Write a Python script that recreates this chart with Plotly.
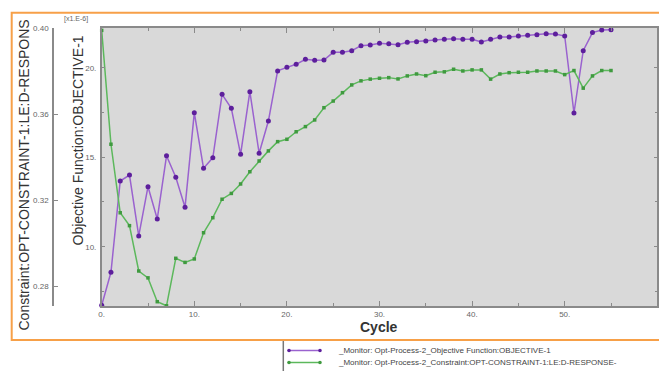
import plotly.graph_objects as go

# ---------------- data ----------------
cycles = list(range(56))
objective = [6.73, 8.57, 13.67, 14.0, 10.6, 13.35, 11.55, 15.08, 13.88, 12.2,
             17.49, 14.38, 14.97, 18.51, 17.73, 15.16, 18.66, 15.22, 17.02, 19.82,
             20.02, 20.19, 20.47, 20.41, 20.43, 20.86, 20.86, 20.95, 21.23, 21.27,
             21.36, 21.34, 21.28, 21.42, 21.45, 21.49, 21.55, 21.59, 21.62, 21.59,
             21.59, 21.44, 21.59, 21.72, 21.72, 21.77, 21.81, 21.84, 21.90, 21.88,
             21.77, 17.47, 20.95, 21.96, 22.11, 22.12]
constraint = [0.3990, 0.3460, 0.3141, 0.3081, 0.2870, 0.2838, 0.2727, 0.2708, 0.2929, 0.2910,
              0.2926, 0.3048, 0.3118, 0.3204, 0.3231, 0.3275, 0.3332, 0.3382, 0.3429, 0.3472,
              0.3483, 0.3518, 0.3542, 0.3573, 0.3630, 0.3661, 0.3700, 0.3736, 0.3755, 0.3763,
              0.3767, 0.3770, 0.3764, 0.3778, 0.3787, 0.3779, 0.3795, 0.3797, 0.3809, 0.3801,
              0.3806, 0.3806, 0.3763, 0.3787, 0.3793, 0.3795, 0.3795, 0.3801, 0.3801, 0.3801,
              0.3784, 0.3803, 0.3721, 0.3778, 0.3803, 0.3803]

x_tickvals = [0, 10, 20, 30, 40, 50, 60]
x_ticktext = ["0.", "10.", "20.", "30.", "40.", "50.", "60."]
y_tickvals = [10, 15, 20]
y_ticktext = ["10.", "15.", "20."]
y2_tickvals = [0.28, 0.32, 0.36, 0.40]
y2_ticktext = ["0.28", "0.32", "0.36", "0.40"]

obj_name = "_Monitor: Opt-Process-2_Objective Function:OBJECTIVE-1"
con_name = "_Monitor: Opt-Process-2_Constraint:OPT-CONSTRAINT-1:LE:D-RESPONSE-"

# ---------------- layout helpers ----------------
W, H = 659, 371
def px(x):
    return x / W
def py(y):
    return 1 - y / H

purple_line = "#9a62cf"
purple_mark = "#5d1f9c"
green_line = "#5cb85c"
green_mark = "#3f9a3f"
axis_col = "#8a8a8a"
FONT = "Liberation Sans, Arial, sans-serif"
tick_font = dict(family=FONT, size=8, color="#666666")

fig = go.Figure()
fig.add_trace(go.Scatter(
    x=cycles, y=objective, mode="lines+markers", name=obj_name,
    line=dict(color=purple_line, width=1.5),
    marker=dict(color=purple_mark, size=5, symbol="circle"),
    showlegend=False, cliponaxis=False))
fig.add_trace(go.Scatter(
    x=cycles, y=constraint, mode="lines+markers", name=con_name, yaxis="y2",
    line=dict(color=green_line, width=1.5),
    marker=dict(color=green_mark, size=3.5, symbol="square"),
    showlegend=False, cliponaxis=False))

fig.update_layout(
    width=W, height=H,
    margin=dict(l=0, r=0, t=0, b=0, autoexpand=False),
    paper_bgcolor="white",
    plot_bgcolor="#d9d9d9",
    showlegend=False,
    xaxis=dict(
        domain=[px(101.7), px(657.3)], range=[0, 60],
        tickvals=x_tickvals, ticktext=x_ticktext, tickfont=tick_font,
        ticks="inside", ticklen=5, tickcolor=axis_col, tickwidth=1,
        showline=True, linecolor=axis_col, linewidth=1.5, mirror="ticks",
        showgrid=False, zeroline=False,
        minor=dict(dtick=5, tick0=0, ticks="inside", ticklen=3, tickcolor=axis_col, showgrid=False),
    ),
    yaxis=dict(
        domain=[py(306), py(28)], range=[6.687, 22.218],
        tickvals=y_tickvals, ticktext=y_ticktext, tickfont=tick_font,
        ticks="inside", ticklen=4, tickcolor=axis_col, tickwidth=1,
        showline=True, linecolor=axis_col, linewidth=1.5, mirror="ticks",
        showgrid=False, zeroline=False, ticklabelstandoff=2,
        minor=dict(dtick=2.5, tick0=0, ticks="inside", ticklen=2.5, tickcolor=axis_col, showgrid=False),
    ),
    yaxis2=dict(
        overlaying="y", anchor="free", position=px(53), side="left",
        range=[0.2707, 0.4001],
        tickvals=y2_tickvals, ticktext=y2_ticktext, tickfont=tick_font,
        ticks="inside", ticklen=4, tickcolor=axis_col,
        showline=True, linecolor=axis_col, linewidth=1.5,
        showgrid=False, zeroline=False, ticklabelstandoff=2,
    ),
)

annotations = [
    dict(text="Objective Function:OBJECTIVE-1", x=px(77), y=py(140.5), xref="paper", yref="paper",
         textangle=-90, showarrow=False, xanchor="center", yanchor="middle",
         font=dict(family=FONT, size=14, color="#333333")),
    dict(text="Constraint:OPT-CONSTRAINT-1:LE:D-RESPONS", x=px(23), y=py(333), xref="paper", yref="paper",
         textangle=-90, showarrow=False, xanchor="center", yanchor="bottom",
         font=dict(family=FONT, size=14, color="#333333")),
    dict(text="[x1.E-6]", x=px(62), y=py(19.5), xref="paper", yref="paper",
         showarrow=False, xanchor="left", yanchor="middle",
         font=dict(family=FONT, size=7, color="#666666")),
    dict(text="<b>Cycle</b>", x=px(379), y=py(327), xref="paper", yref="paper",
         showarrow=False, xanchor="center", yanchor="middle",
         font=dict(family=FONT, size=14, color="#333333")),
    dict(text=obj_name, x=px(335.7), y=py(350.5), xref="paper", yref="paper",
         showarrow=False, xanchor="left", yanchor="middle",
         font=dict(family=FONT, size=8, color="#444444")),
    dict(text=con_name, x=px(335.7), y=py(362.5), xref="paper", yref="paper",
         showarrow=False, xanchor="left", yanchor="middle",
         font=dict(family=FONT, size=8, color="#444444")),
]
fig.update_layout(annotations=annotations)

shapes = [
    # orange frame around the chart
    dict(type="rect", xref="paper", yref="paper", x0=px(11.7), x1=px(680), y0=py(340), y1=py(12.7),
         line=dict(color="#f7a048", width=2), fillcolor="rgba(0,0,0,0)"),
    # legend box left edge
    dict(type="line", xref="paper", yref="paper", x0=px(283.3), x1=px(283.3), y0=py(341), y1=py(371),
         line=dict(color="#777777", width=1.5)),
    # legend sample lines
    dict(type="line", xref="paper", yref="paper", x0=px(289), x1=px(320), y0=py(350.5), y1=py(350.5),
         line=dict(color=purple_line, width=1.5)),
    dict(type="line", xref="paper", yref="paper", x0=px(289), x1=px(320), y0=py(362.5), y1=py(362.5),
         line=dict(color=green_line, width=1.5)),
]
for cx, cy, col in [(289, 350.5, purple_mark), (320, 350.5, purple_mark),
                    (289, 362.5, green_mark), (320, 362.5, green_mark)]:
    shapes.append(dict(type="circle", xref="paper", yref="paper",
                       x0=px(cx - 1.8), x1=px(cx + 1.8), y0=py(cy + 1.8), y1=py(cy - 1.8),
                       line=dict(width=0), fillcolor=col))
fig.update_layout(shapes=shapes)

# remove the browser's default page margin so the figure fills the window exactly
fig.write_html("out.html",
               config={"displayModeBar": False},
               post_script="document.body.style.margin='0';document.body.style.overflow='hidden';")
